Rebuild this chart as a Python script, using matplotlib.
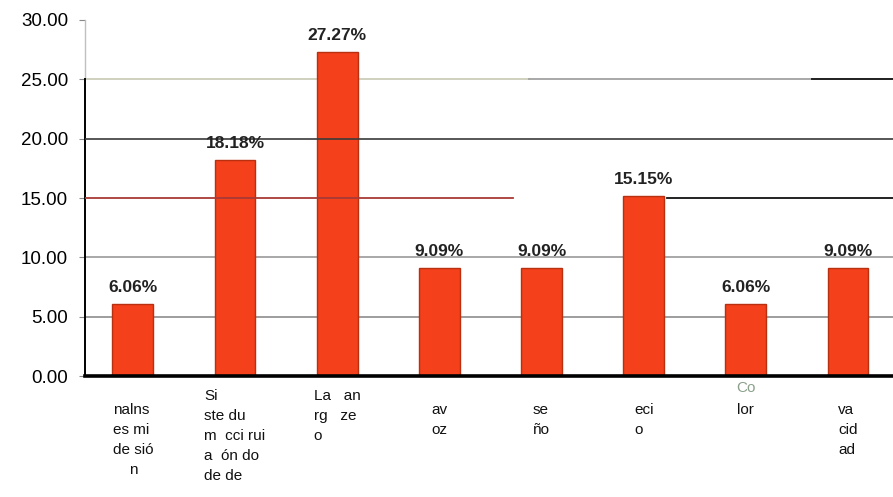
import numpy as np
import matplotlib.pyplot as plt
from matplotlib.transforms import blended_transform_factory

plt.rcParams["font.family"] = ["Liberation Sans", "DejaVu Sans"]

# Porcentaje de menciones por atributo
etiquetas = ["nalns\nes mi\nde sió\n    n",
             "Si\nste du\nm  cci rui\na  ón do\nde de",
             "La   an\nrg   ze\no",
             "av\noz",
             "se\nño",
             "eci\no",
             "lor",
             "va\ncid\nad"]
porcentajes = [6.06, 18.18, 27.27, 9.09, 9.09, 15.15, 6.06, 9.09]
yticks = [0, 5, 10, 15, 20, 25, 30]

fig = plt.figure(figsize=(8.93, 4.97), dpi=100)
ax = fig.add_axes([0.095, 0.243, 0.905, 0.717])

x = np.arange(len(porcentajes))

# lineas de referencia detras de las barras
ax.axhline(5, color="#8c8c8c", lw=1.2, zorder=1)
ax.axhline(10, color="#9a9a9a", lw=1.2, zorder=1)
ax.axhline(25, xmax=0.55, color="#c8c8b4", lw=1.2, zorder=1)
ax.axhline(25, xmin=0.55, color="#9a9a9a", lw=1.2, zorder=1)
ax.axhline(25, xmin=0.9, color="#222222", lw=1.4, zorder=1)

ax.bar(x, porcentajes, width=0.4, color="#f4401b", edgecolor="#b8300f",
       linewidth=1.0, zorder=2)

# lineas que cruzan por encima de las barras
ax.axhline(20, color="#3a3a3a", lw=1.2, zorder=3)
ax.axhline(15, xmax=0.53, color="#a83a36", lw=1.3, zorder=3)
ax.axhline(15, xmin=0.72, color="#111111", lw=1.3, zorder=3)

for xi, v in zip(x, porcentajes):
    ax.annotate(f"{v:.2f}%", (xi, v), xytext=(0, 7), textcoords="offset points",
                ha="center", va="bottom", fontsize=12.5, fontweight="bold",
                color="#222222", zorder=4)

ax.set_xlim(-0.47, 7.44)
ax.set_ylim(0, 30)
ax.set_yticks(yticks)
ax.set_yticklabels([f"{t:.2f}" for t in yticks], fontsize=13.5)
ax.tick_params(axis="y", length=4, color="#888888", pad=8)
ax.set_xticks([])

for s in ["top", "right", "bottom"]:
    ax.spines[s].set_visible(False)
ax.spines["left"].set_bounds(0, 25)
ax.spines["left"].set_linewidth(1.4)
ax.plot([-0.47, -0.47], [25, 30], color="#c0c0c0", lw=1, clip_on=False)

# eje base grueso
ax.axhline(0, color="black", lw=2.6, zorder=5, clip_on=False)

# las etiquetas de dos columnas arrancan mas arriba
trans = blended_transform_factory(ax.transData, ax.transAxes)
for xi, lab in zip(x, etiquetas):
    top = -0.035 if xi in (1, 2) else -0.075
    ax.text(xi, top, lab, transform=trans, ha="center", va="top",
            multialignment="left", fontsize=11, linespacing=1.55,
            color="#111111")
ax.text(6, -0.012, "Co", transform=trans, ha="center", va="top",
        fontsize=11, color="#8aa08a")

fig.savefig("out.png", dpi=100, facecolor="white")
